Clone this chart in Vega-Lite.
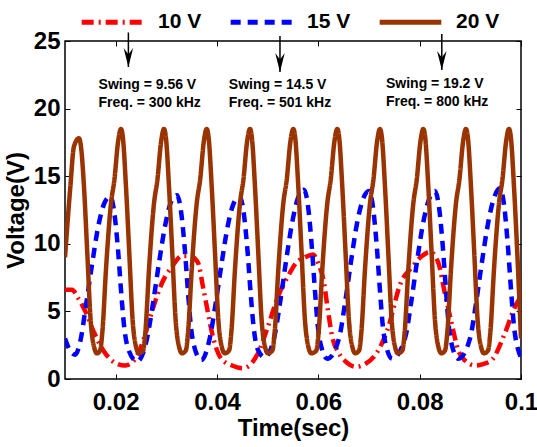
{
"$schema":"https://vega.github.io/schema/vega-lite/v6.json",
"width":456,"height":338,
"autosize":{"type":"none"},
"padding":{"left":65,"top":41,"right":16,"bottom":68},
"datasets":{
"lines":[
{"s":"10 V","t":0.01,"v":6.6},{"s":"10 V","t":0.01138,"v":6.6},{"s":"10 V","t":0.01257,"v":6.0},{"s":"10 V","t":0.01401,"v":5.0},{"s":"10 V","t":0.01566,"v":3.5},{"s":"10 V","t":0.01795,"v":1.9},{"s":"10 V","t":0.01987,"v":1.2},{"s":"10 V","t":0.0219,"v":1.0},{"s":"10 V","t":0.02388,"v":1.5},{"s":"10 V","t":0.02559,"v":3.0},{"s":"10 V","t":0.02717,"v":5.0},{"s":"10 V","t":0.02914,"v":7.1},{"s":"10 V","t":0.03112,"v":8.3},{"s":"10 V","t":0.03309,"v":9.1},{"s":"10 V","t":0.03467,"v":9.1},{"s":"10 V","t":0.03625,"v":8.6},{"s":"10 V","t":0.03724,"v":6.8},{"s":"10 V","t":0.03822,"v":4.9},{"s":"10 V","t":0.03921,"v":3.1},{"s":"10 V","t":0.04085,"v":1.5},{"s":"10 V","t":0.04296,"v":1.0},{"s":"10 V","t":0.04513,"v":0.8},{"s":"10 V","t":0.04691,"v":1.2},{"s":"10 V","t":0.04809,"v":1.9},{"s":"10 V","t":0.05007,"v":3.9},{"s":"10 V","t":0.05204,"v":6.1},{"s":"10 V","t":0.05401,"v":7.6},{"s":"10 V","t":0.05565,"v":8.6},{"s":"10 V","t":0.05737,"v":9.0},{"s":"10 V","t":0.05895,"v":9.2},{"s":"10 V","t":0.05993,"v":8.6},{"s":"10 V","t":0.06112,"v":7.1},{"s":"10 V","t":0.06177,"v":5.4},{"s":"10 V","t":0.06276,"v":3.1},{"s":"10 V","t":0.06408,"v":1.9},{"s":"10 V","t":0.06566,"v":1.2},{"s":"10 V","t":0.06738,"v":0.9},{"s":"10 V","t":0.06921,"v":1.1},{"s":"10 V","t":0.07099,"v":1.65},{"s":"10 V","t":0.07361,"v":3.6},{"s":"10 V","t":0.07626,"v":7.1},{"s":"10 V","t":0.07855,"v":8.3},{"s":"10 V","t":0.08046,"v":9.1},{"s":"10 V","t":0.08204,"v":9.4},{"s":"10 V","t":0.08368,"v":8.6},{"s":"10 V","t":0.085,"v":6.3},{"s":"10 V","t":0.08632,"v":4.1},{"s":"10 V","t":0.08763,"v":2.1},{"s":"10 V","t":0.08914,"v":1.3},{"s":"10 V","t":0.09092,"v":1.0},{"s":"10 V","t":0.0925,"v":1.1},{"s":"10 V","t":0.09422,"v":1.4},{"s":"10 V","t":0.09684,"v":3.4},{"s":"10 V","t":0.09882,"v":5.35},{"s":"10 V","t":0.1,"v":6.1},
{"s":"15 V","t":0.01,"v":3.0},{"s":"15 V","t":0.011,"v":2.1},{"s":"15 V","t":0.01203,"v":1.8},{"s":"15 V","t":0.01302,"v":2.8},{"s":"15 V","t":0.0142,"v":5.6},{"s":"15 V","t":0.01539,"v":8.6},{"s":"15 V","t":0.01657,"v":11.3},{"s":"15 V","t":0.01776,"v":13.0},{"s":"15 V","t":0.01894,"v":13.5},{"s":"15 V","t":0.01973,"v":12.3},{"s":"15 V","t":0.02052,"v":9.3},{"s":"15 V","t":0.02111,"v":6.3},{"s":"15 V","t":0.0217,"v":3.8},{"s":"15 V","t":0.02249,"v":2.2},{"s":"15 V","t":0.02421,"v":1.3},
{"s":"15 V","t":0.02619,"v":3.0},{"s":"15 V","t":0.02737,"v":5.6},{"s":"15 V","t":0.02856,"v":8.6},{"s":"15 V","t":0.02974,"v":11.3},{"s":"15 V","t":0.03093,"v":13.1},{"s":"15 V","t":0.03211,"v":13.6},{"s":"15 V","t":0.0329,"v":12.4},{"s":"15 V","t":0.03369,"v":9.4},{"s":"15 V","t":0.03428,"v":6.4},{"s":"15 V","t":0.03487,"v":3.8},{"s":"15 V","t":0.03566,"v":2.2},{"s":"15 V","t":0.0369,"v":1.4},
{"s":"15 V","t":0.03856,"v":3.0},{"s":"15 V","t":0.03974,"v":5.6},{"s":"15 V","t":0.04093,"v":8.6},{"s":"15 V","t":0.04211,"v":11.3},{"s":"15 V","t":0.0433,"v":13.0},{"s":"15 V","t":0.04448,"v":13.5},{"s":"15 V","t":0.04527,"v":12.3},{"s":"15 V","t":0.04606,"v":9.3},{"s":"15 V","t":0.04665,"v":6.3},{"s":"15 V","t":0.04724,"v":3.8},{"s":"15 V","t":0.04803,"v":2.2},{"s":"15 V","t":0.04941,"v":1.6},
{"s":"15 V","t":0.05125,"v":3.0},{"s":"15 V","t":0.05243,"v":5.6},{"s":"15 V","t":0.05362,"v":8.7},{"s":"15 V","t":0.0548,"v":11.5},{"s":"15 V","t":0.05599,"v":13.4},{"s":"15 V","t":0.05717,"v":14.0},{"s":"15 V","t":0.05796,"v":12.8},{"s":"15 V","t":0.05875,"v":9.6},{"s":"15 V","t":0.05934,"v":6.5},{"s":"15 V","t":0.05993,"v":3.8},{"s":"15 V","t":0.06072,"v":2.2},{"s":"15 V","t":0.06177,"v":1.5},
{"s":"15 V","t":0.06408,"v":3.0},{"s":"15 V","t":0.06526,"v":5.6},{"s":"15 V","t":0.06645,"v":8.7},{"s":"15 V","t":0.06763,"v":11.5},{"s":"15 V","t":0.06882,"v":13.3},{"s":"15 V","t":0.07,"v":13.9},{"s":"15 V","t":0.07079,"v":12.7},{"s":"15 V","t":0.07158,"v":9.6},{"s":"15 V","t":0.07217,"v":6.5},{"s":"15 V","t":0.07276,"v":3.8},{"s":"15 V","t":0.07355,"v":2.2},{"s":"15 V","t":0.0746,"v":1.5},
{"s":"15 V","t":0.07711,"v":3.0},{"s":"15 V","t":0.07829,"v":5.6},{"s":"15 V","t":0.07948,"v":8.7},{"s":"15 V","t":0.08066,"v":11.5},{"s":"15 V","t":0.08185,"v":13.3},{"s":"15 V","t":0.08303,"v":13.9},{"s":"15 V","t":0.08382,"v":12.7},{"s":"15 V","t":0.08461,"v":9.6},{"s":"15 V","t":0.0852,"v":6.5},{"s":"15 V","t":0.08579,"v":3.8},{"s":"15 V","t":0.08658,"v":2.2},{"s":"15 V","t":0.08763,"v":1.5},
{"s":"15 V","t":0.08994,"v":3.0},{"s":"15 V","t":0.09112,"v":5.6},{"s":"15 V","t":0.09231,"v":8.7},{"s":"15 V","t":0.09349,"v":11.5},{"s":"15 V","t":0.09468,"v":13.4},{"s":"15 V","t":0.09586,"v":14.1},{"s":"15 V","t":0.09665,"v":12.9},{"s":"15 V","t":0.09744,"v":9.7},{"s":"15 V","t":0.09803,"v":6.6},{"s":"15 V","t":0.09862,"v":3.9},{"s":"15 V","t":0.09941,"v":2.2},{"s":"15 V","t":0.1,"v":1.6},
{"s":"20 V","t":0.01,"v":9.0},{"s":"20 V","t":0.01105,"v":14.2},{"s":"20 V","t":0.01177,"v":17.2},{"s":"20 V","t":0.01276,"v":17.8},{"s":"20 V","t":0.01315,"v":17.2},{"s":"20 V","t":0.01375,"v":14.2},{"s":"20 V","t":0.0144,"v":9.3},{"s":"20 V","t":0.01505,"v":4.4},{"s":"20 V","t":0.01572,"v":2.4},{"s":"20 V","t":0.01631,"v":1.9},
{"s":"20 V","t":0.01691,"v":2.1},{"s":"20 V","t":0.0174,"v":3.6},{"s":"20 V","t":0.01809,"v":8.1},{"s":"20 V","t":0.01908,"v":13.0},{"s":"20 V","t":0.01977,"v":14.8},{"s":"20 V","t":0.02046,"v":17.5},{"s":"20 V","t":0.02105,"v":18.5},{"s":"20 V","t":0.02144,"v":17.8},{"s":"20 V","t":0.02204,"v":14.2},{"s":"20 V","t":0.02269,"v":9.3},{"s":"20 V","t":0.02334,"v":4.4},{"s":"20 V","t":0.02401,"v":2.4},{"s":"20 V","t":0.0246,"v":1.9},
{"s":"20 V","t":0.0254,"v":2.1},{"s":"20 V","t":0.02589,"v":3.6},{"s":"20 V","t":0.02658,"v":8.1},{"s":"20 V","t":0.02757,"v":13.0},{"s":"20 V","t":0.02826,"v":14.8},{"s":"20 V","t":0.02895,"v":17.5},{"s":"20 V","t":0.02954,"v":18.5},{"s":"20 V","t":0.02993,"v":17.8},{"s":"20 V","t":0.03053,"v":14.2},{"s":"20 V","t":0.03118,"v":9.3},{"s":"20 V","t":0.03183,"v":4.4},{"s":"20 V","t":0.0325,"v":2.4},{"s":"20 V","t":0.03309,"v":1.9},
{"s":"20 V","t":0.03383,"v":2.1},{"s":"20 V","t":0.03432,"v":3.6},{"s":"20 V","t":0.03501,"v":8.1},{"s":"20 V","t":0.036,"v":13.0},{"s":"20 V","t":0.03669,"v":14.8},{"s":"20 V","t":0.03738,"v":17.5},{"s":"20 V","t":0.03797,"v":18.5},{"s":"20 V","t":0.03836,"v":17.8},{"s":"20 V","t":0.03896,"v":14.2},{"s":"20 V","t":0.03961,"v":9.3},{"s":"20 V","t":0.04026,"v":4.4},{"s":"20 V","t":0.04093,"v":2.4},{"s":"20 V","t":0.04152,"v":1.9},
{"s":"20 V","t":0.04237,"v":2.1},{"s":"20 V","t":0.04286,"v":3.6},{"s":"20 V","t":0.04355,"v":8.1},{"s":"20 V","t":0.04454,"v":13.0},{"s":"20 V","t":0.04523,"v":14.8},{"s":"20 V","t":0.04592,"v":17.5},{"s":"20 V","t":0.04651,"v":18.5},{"s":"20 V","t":0.0469,"v":17.8},{"s":"20 V","t":0.0475,"v":14.2},{"s":"20 V","t":0.04815,"v":9.3},{"s":"20 V","t":0.0488,"v":4.4},{"s":"20 V","t":0.04947,"v":2.4},{"s":"20 V","t":0.05006,"v":1.9},
{"s":"20 V","t":0.05092,"v":2.1},{"s":"20 V","t":0.05141,"v":3.6},{"s":"20 V","t":0.0521,"v":8.1},{"s":"20 V","t":0.05309,"v":13.0},{"s":"20 V","t":0.05378,"v":14.8},{"s":"20 V","t":0.05447,"v":17.5},{"s":"20 V","t":0.05506,"v":18.5},{"s":"20 V","t":0.05545,"v":17.8},{"s":"20 V","t":0.05605,"v":14.2},{"s":"20 V","t":0.0567,"v":9.3},{"s":"20 V","t":0.05735,"v":4.4},{"s":"20 V","t":0.05802,"v":2.4},{"s":"20 V","t":0.05861,"v":1.9},
{"s":"20 V","t":0.0596,"v":2.1},{"s":"20 V","t":0.06009,"v":3.6},{"s":"20 V","t":0.06078,"v":8.1},{"s":"20 V","t":0.06177,"v":13.0},{"s":"20 V","t":0.06246,"v":14.8},{"s":"20 V","t":0.06315,"v":17.5},{"s":"20 V","t":0.06374,"v":18.5},{"s":"20 V","t":0.06413,"v":17.8},{"s":"20 V","t":0.06473,"v":14.2},{"s":"20 V","t":0.06538,"v":9.3},{"s":"20 V","t":0.06603,"v":4.4},{"s":"20 V","t":0.0667,"v":2.4},{"s":"20 V","t":0.06729,"v":1.9},
{"s":"20 V","t":0.06803,"v":2.1},{"s":"20 V","t":0.06852,"v":3.6},{"s":"20 V","t":0.06921,"v":8.1},{"s":"20 V","t":0.0702,"v":13.0},{"s":"20 V","t":0.07089,"v":14.8},{"s":"20 V","t":0.07158,"v":17.5},{"s":"20 V","t":0.07217,"v":18.5},{"s":"20 V","t":0.07256,"v":17.8},{"s":"20 V","t":0.07316,"v":14.2},{"s":"20 V","t":0.07381,"v":9.3},{"s":"20 V","t":0.07446,"v":4.4},{"s":"20 V","t":0.07513,"v":2.4},{"s":"20 V","t":0.07572,"v":1.9},
{"s":"20 V","t":0.07658,"v":2.1},{"s":"20 V","t":0.07707,"v":3.6},{"s":"20 V","t":0.07776,"v":8.1},{"s":"20 V","t":0.07875,"v":13.0},{"s":"20 V","t":0.07944,"v":14.8},{"s":"20 V","t":0.08013,"v":17.5},{"s":"20 V","t":0.08072,"v":18.5},{"s":"20 V","t":0.08111,"v":17.8},{"s":"20 V","t":0.08171,"v":14.2},{"s":"20 V","t":0.08236,"v":9.3},{"s":"20 V","t":0.08301,"v":4.4},{"s":"20 V","t":0.08368,"v":2.4},{"s":"20 V","t":0.08427,"v":1.9},
{"s":"20 V","t":0.085,"v":2.1},{"s":"20 V","t":0.08549,"v":3.6},{"s":"20 V","t":0.08618,"v":8.1},{"s":"20 V","t":0.08717,"v":13.0},{"s":"20 V","t":0.08786,"v":14.8},{"s":"20 V","t":0.08855,"v":17.5},{"s":"20 V","t":0.08914,"v":18.5},{"s":"20 V","t":0.08953,"v":17.8},{"s":"20 V","t":0.09013,"v":14.2},{"s":"20 V","t":0.09078,"v":9.3},{"s":"20 V","t":0.09143,"v":4.4},{"s":"20 V","t":0.0921,"v":2.4},{"s":"20 V","t":0.09269,"v":1.9},
{"s":"20 V","t":0.09349,"v":2.1},{"s":"20 V","t":0.09398,"v":3.6},{"s":"20 V","t":0.09467,"v":8.1},{"s":"20 V","t":0.09566,"v":13.0},{"s":"20 V","t":0.09635,"v":14.8},{"s":"20 V","t":0.09704,"v":17.5},{"s":"20 V","t":0.09763,"v":18.5},{"s":"20 V","t":0.09802,"v":17.8},{"s":"20 V","t":0.09862,"v":14.2},{"s":"20 V","t":0.09927,"v":9.3},{"s":"20 V","t":0.1,"v":3.0}
],
"notes":[
{"x":0.01662,"y":22.23,"label":"Swing = 9.56 V\nFreq. = 300 kHz"},
{"x":0.04233,"y":22.23,"label":"Swing = 14.5 V\nFreq. = 501 kHz"},
{"x":0.07335,"y":22.33,"label":"Swing =  19.2 V\nFreq. = 800 kHz"}
],
"arrows":[
{"x":0.02251,"y":25.63,"y2":23.08},
{"x":0.05243,"y":25.37,"y2":22.71},
{"x":0.08437,"y":25.52,"y2":22.86}
]
},
"layer":[
{
"data":{"name":"lines"},
"mark":{"type":"line","interpolate":"monotone","strokeWidth":4.5,"clip":true},
"encoding":{
"x":{"field":"t","type":"quantitative","scale":{"domain":[0.01,0.1],"nice":false,"zero":false},
"axis":{"orient":"bottom","values":[0.02,0.04,0.06,0.08,0.1],"format":".2~f","title":"Time(sec)","labelPadding":16,"labelFlush":false,"labelOverlap":false,"titleBaseline":"alphabetic","titleY":56}},
"y":{"field":"v","type":"quantitative","scale":{"domain":[0,25],"nice":false,"zero":false},
"axis":{"orient":"left","values":[0,5,10,15,20,25],"title":"Voltage(V)","labelPadding":10,"labelFlush":false,"labelOverlap":false,"titleBaseline":"alphabetic","titleX":-42}},
"color":{"field":"s","type":"nominal","scale":{"domain":["10 V","15 V","20 V"],"range":["#ff0000","#0000ff","#993300"]},
"legend":{"title":null,"orient":"none","legendX":14,"legendY":-52.5,"direction":"horizontal","symbolType":"stroke","symbolSize":3800,"symbolStrokeWidth":5,"labelFontSize":21,"labelFontWeight":"bold","labelFont":"Liberation Sans","labelColor":"black","labelOffset":12,"columnPadding":18,"padding":0}},
"strokeDash":{"field":"s","type":"nominal","scale":{"domain":["10 V","15 V","20 V"],"range":[[12,5,2,5],[10,7],[1,0]]},
"legend":{"title":null,"orient":"none","legendX":14,"legendY":-52.5,"direction":"horizontal","symbolType":"stroke","symbolSize":3800,"symbolStrokeWidth":5,"labelFontSize":21,"labelFontWeight":"bold","labelFont":"Liberation Sans","labelColor":"black","labelOffset":12,"columnPadding":18,"padding":0}}
}
},
{
"data":{"name":"notes"},
"mark":{"type":"text","align":"left","baseline":"top","fontSize":14,"fontWeight":"bold","font":"Liberation Sans","lineHeight":18,"lineBreak":"\n","color":"black"},
"encoding":{
"x":{"field":"x","type":"quantitative","scale":{"domain":[0.01,0.1],"nice":false,"zero":false},
"axis":{"orient":"top","labels":false,"title":null,"values":[0.02,0.04,0.06,0.08,0.1]}},
"y":{"field":"y","type":"quantitative","scale":{"domain":[0,25],"nice":false,"zero":false},
"axis":{"orient":"right","labels":false,"title":null,"values":[0,5,10,15,20,25]}},
"text":{"field":"label","type":"nominal"}
}
},
{
"data":{"name":"arrows"},
"mark":{"type":"rule","strokeWidth":1.5,"color":"black"},
"encoding":{
"x":{"field":"x","type":"quantitative","axis":null,"scale":{"domain":[0.01,0.1],"nice":false,"zero":false}},
"y":{"field":"y","type":"quantitative","axis":null,"scale":{"domain":[0,25],"nice":false,"zero":false}},
"y2":{"field":"y2"}
}
},
{
"data":{"name":"arrows"},
"mark":{"type":"point","shape":"M-0.5,-1L0,1L0.5,-1L0,-0.3Z","filled":true,"color":"black","opacity":1,"size":361,"yOffset":-9.5},
"encoding":{
"x":{"field":"x","type":"quantitative","axis":null,"scale":{"domain":[0.01,0.1],"nice":false,"zero":false}},
"y":{"field":"y2","type":"quantitative","axis":null,"scale":{"domain":[0,25],"nice":false,"zero":false}}
}
}
],
"resolve":{"axis":{"x":"independent","y":"independent"}},
"config":{
"font":"Liberation Sans",
"view":{"stroke":"black","strokeWidth":1.5},
"axis":{"domain":false,"grid":false,"ticks":true,"tickSize":-5,"tickColor":"black","tickWidth":1,"labelFont":"Liberation Sans","labelFontWeight":"bold","labelFontSize":24,"labelColor":"black","titleFont":"Liberation Sans","titleFontWeight":"bold","titleFontSize":24,"titleColor":"black"}
}
}
